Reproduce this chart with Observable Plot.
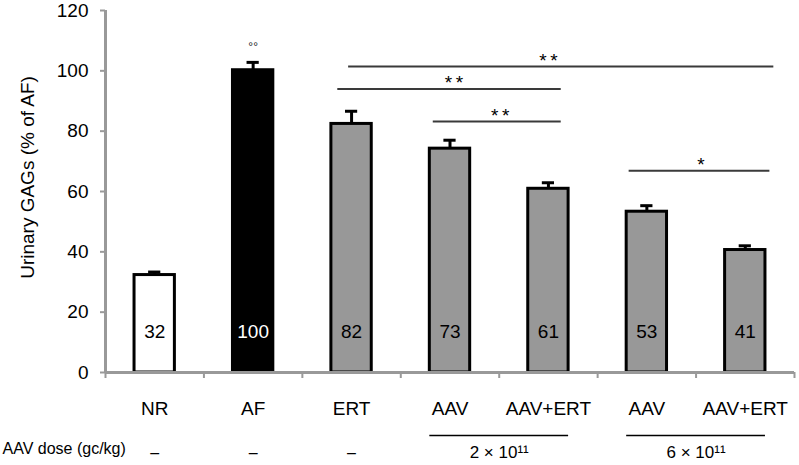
<!DOCTYPE html>
<html><head><meta charset="utf-8">
<script src="https://cdn.jsdelivr.net/npm/d3@7"></script>
<script src="https://cdn.jsdelivr.net/npm/@observablehq/plot@0.6"></script>
<style>body{margin:0;background:#fff;}</style>
</head><body><div id="chart"></div>
<script>
// ---- data ----
const groups = ["NR", "AF", "ERT", "AAV", "AAV+ERT", "AAV", "AAV+ERT"];
const kinds = ["untreated", "affected", "treated", "treated", "treated", "treated", "treated"];
const values = [32.3, 100.2, 82.4, 74.2, 60.9, 53.3, 40.6];
const errors = [1.0, 2.6, 4.2, 2.8, 2.0, 2.0, 1.4];
const valueLabels = ["32", "100", "82", "73", "61", "53", "41"];
const yTicks = [0, 20, 40, 60, 80, 100, 120];
const yTitle = "Urinary GAGs (% of AF)";
// significance brackets (x in category-index units, y in % of AF)
const sigFrom = [2.47, 2.36, 3.33, 5.32];
const sigTo = [6.79, 4.63, 4.63, 6.75];
const sigY = [101.4, 94.0, 83.2, 66.9];
const sigTextX = [4.50, 3.54, 4.01, 6.05];
const sigLabels = ["**", "**", "**", "*"];
const afMark = "°°";
// AAV dose row
const doseTitle = "AAV dose (gc/kg)";
const doseNone = [0, 1, 2];          // categories without AAV
const doseGroupFrom = [3, 5];
const doseGroupTo = [4, 6];
const doseGroupLabels = ["2 × 10¹¹", "6 × 10¹¹"];

// ---- drawing ----
const idx = d3.range(groups.length);
const hw = 0.205;   // half bar width (category units)
const cap = 0.062;  // half cap width
const font = "'Liberation Sans', Arial, Helvetica, sans-serif";

const chart = Plot.plot({
  width: 799,
  height: 465,
  marginLeft: 105,
  marginRight: 5,
  marginTop: 10,
  marginBottom: 93,
  style: {fontFamily: font, background: "#fff", color: "#000"},
  x: {type: "linear", domain: [0, groups.length]},
  y: {domain: [0, 120]},
  color: {domain: ["untreated", "affected", "treated"], range: ["#ffffff", "#000000", "#989898"]},
  marks: [
    // y axis ticks & labels
    Plot.axisY({ticks: yTicks, tickSize: 5, tickPadding: 12, stroke: "#999", strokeWidth: 2, fill: "#000", fontSize: 19, label: null}),
    // x axis boundary ticks
    Plot.axisX({ticks: d3.range(0, groups.length + 1), tickSize: 6, tickFormat: () => "", stroke: "#999", strokeWidth: 2, label: null}),
    // y title
    Plot.text([yTitle], {frameAnchor: "left", dx: -78, dy: -14, rotate: -90, fontSize: 19, textAnchor: "middle", fill: "#000"}),
    // error bars
    Plot.ruleX(idx, {x: i => i + 0.5, y1: i => values[i], y2: i => values[i] + errors[i], stroke: "#000", strokeWidth: 3}),
    Plot.ruleY(idx, {y: i => values[i] + errors[i], x1: i => i + 0.5 - cap, x2: i => i + 0.5 + cap, stroke: "#000", strokeWidth: 3}),
    // bars
    Plot.rectY(idx, {x1: i => i + 0.5 - hw, x2: i => i + 0.5 + hw, y1: () => 0, y2: i => values[i], fill: i => kinds[i], stroke: "#000", strokeWidth: 3}),
    // axis lines
    Plot.ruleX([0], {y1: 0, y2: 120, stroke: "#999", strokeWidth: 3}),
    Plot.ruleY([0], {x1: 0, x2: groups.length, stroke: "#999", strokeWidth: 3}),
    // value labels inside bars
    Plot.text(idx, {x: i => i + 0.5, y: () => 13.3, text: i => valueLabels[i], fontSize: 19, fill: i => kinds[i] === "affected" ? "#fff" : "#000"}),
    // AF mark
    Plot.text([afMark], {x: () => 1.5, y: () => 108, text: d => d, fontSize: 12, fill: "#222"}),
    // significance brackets
    Plot.ruleY(d3.range(sigY.length), {y: i => sigY[i], x1: i => sigFrom[i], x2: i => sigTo[i], stroke: "#3a3a3a", strokeWidth: 2}),
    Plot.text(d3.range(sigY.length), {x: i => sigTextX[i], y: i => sigY[i], text: i => sigLabels[i].split("").join("\u2009"), dy: -6, fontSize: 19, fill: "#000"}),
    // category labels under axis
    Plot.text(idx, {x: i => i + 0.5, y: () => 0, text: i => groups[i], dy: 36, fontSize: 19, fill: "#000"}),
    // dose row
    Plot.text([doseTitle], {frameAnchor: "bottom-left", dx: -103, dy: 81, fontSize: 16, textAnchor: "start", fill: "#000"}),
    Plot.text(doseNone, {x: i => i + 0.5, y: () => 0, text: () => "–", dy: 80, fontSize: 16, fill: "#000"}),
    Plot.ruleY(d3.range(doseGroupFrom.length), {y: () => 0, x1: i => doseGroupFrom[i] + 0.5 - hw, x2: i => doseGroupTo[i] + 0.5 + hw, dy: 63, stroke: "#000", strokeWidth: 1.5}),
    Plot.text(d3.range(doseGroupFrom.length), {x: i => (doseGroupFrom[i] + doseGroupTo[i]) / 2 + 0.5, y: () => 0, text: i => doseGroupLabels[i], dy: 80, fontSize: 17, fill: "#000"})
  ]
});
document.getElementById("chart").append(chart);
</script>
</body></html>
